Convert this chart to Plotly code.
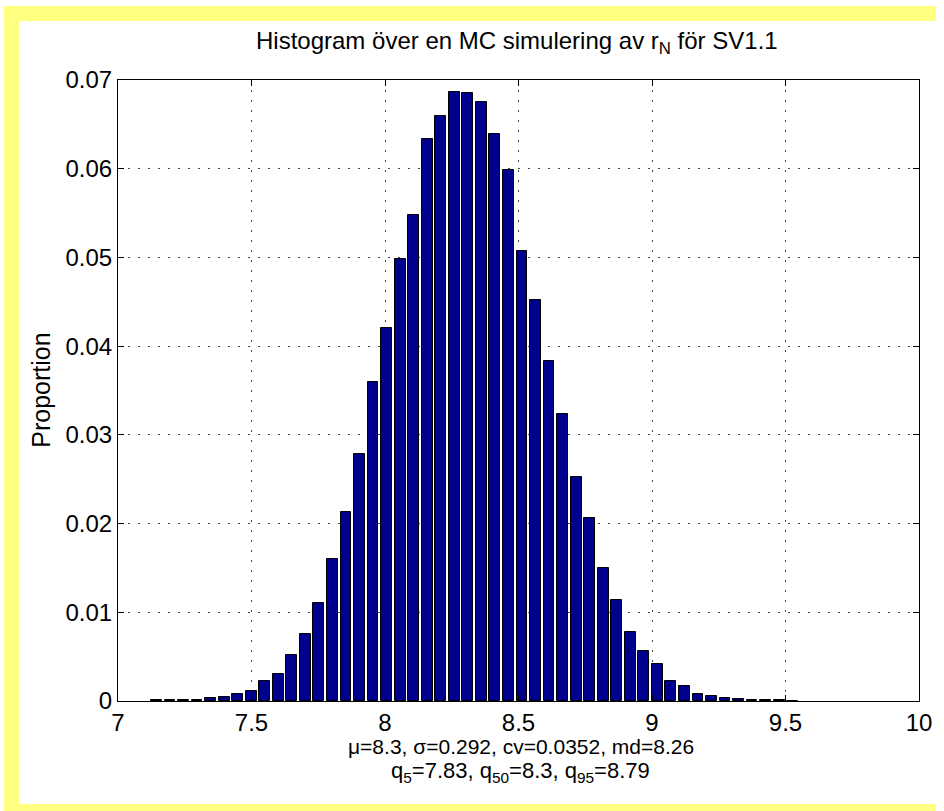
import plotly.graph_objects as go

# ---- data ----
bin_centers = [7.1440, 7.1947, 7.2454, 7.2961, 7.3468, 7.3975, 7.4482, 7.4989,
               7.5496, 7.6003, 7.6510, 7.7017, 7.7524, 7.8031, 7.8538, 7.9045,
               7.9552, 8.0059, 8.0566, 8.1073, 8.1580, 8.2087, 8.2594, 8.3101,
               8.3608, 8.4115, 8.4622, 8.5129, 8.5636, 8.6143, 8.6650, 8.7157,
               8.7664, 8.8171, 8.8678, 8.9185, 8.9692, 9.0199, 9.0706, 9.1213,
               9.1720, 9.2227, 9.2734, 9.3241, 9.3748, 9.4255, 9.4762, 9.5269]
proportion = [0.0001, 0.0001, 0.0001, 0.0001, 0.0003, 0.0004, 0.0008, 0.0011,
              0.0022, 0.0030, 0.0052, 0.0076, 0.0111, 0.0160, 0.0213, 0.0278,
              0.0360, 0.0420, 0.0498, 0.0548, 0.0634, 0.0659, 0.0686, 0.0685,
              0.0675, 0.0639, 0.0598, 0.0507, 0.0452, 0.0383, 0.0324, 0.0252,
              0.0206, 0.0150, 0.0114, 0.0078, 0.0056, 0.0042, 0.0023, 0.0017,
              0.0008, 0.0006, 0.0003, 0.0002, 0.0001, 0.0001, 0.0001, 0.00005]
x_ticks = [7, 7.5, 8, 8.5, 9, 9.5, 10]
x_tick_labels = ["7", "7.5", "8", "8.5", "9", "9.5", "10"]
y_ticks = [0, 0.01, 0.02, 0.03, 0.04, 0.05, 0.06, 0.07]
y_tick_labels = ["0", "0.01", "0.02", "0.03", "0.04", "0.05", "0.06", "0.07"]

title_text = "Histogram över en MC simulering av r<sub>N</sub> för SV1.1"
stats_line1 = "μ=8.3, σ=0.292, cv=0.0352, md=8.26"
stats_line2 = "q<sub>5</sub>=7.83, q<sub>50</sub>=8.3, q<sub>95</sub>=8.79"
y_label = "Proportion"

# ---- layout geometry (pixels) ----
W, H = 944, 811
L, R, T, B = 118, 17, 80, 110
PW, PH = W - L - R, H - T - B
FONT = "Liberation Sans, Arial, Helvetica, sans-serif"


def px(xp):
    return (xp - L) / PW


def py(yp):
    return (H - B - yp) / PH


fig = go.Figure(go.Bar(
    x=bin_centers, y=proportion, width=0.0406,
    marker=dict(color="#00008F", line=dict(color="black", width=1)),
    showlegend=False,
))

axis_common = dict(
    showgrid=True, gridcolor="#444444", gridwidth=1, griddash="2px,8px",
    ticks="inside", ticklen=6, tickcolor="black", tickwidth=1,
    showline=True, linecolor="black", linewidth=1, mirror="allticks",
    zeroline=False,
    tickfont=dict(family=FONT, size=24, color="black"),
)

fig.update_layout(
    width=W, height=H,
    margin=dict(l=L, r=R, t=T, b=B, pad=0),
    paper_bgcolor="white", plot_bgcolor="white",
    xaxis=dict(range=[7, 10], tickvals=x_ticks, ticktext=x_tick_labels, **axis_common),
    yaxis=dict(range=[0, 0.07], tickvals=y_ticks, ticktext=y_tick_labels, **axis_common),
    bargap=0,
)

annos = [
    dict(text=title_text, x=px(521), y=py(43), size=24),
    dict(text=stats_line1, x=px(525), y=py(746), size=21),
    dict(text=stats_line2, x=px(525), y=py(772), size=22),
    dict(text=y_label, x=px(40), y=py(390), size=25, textangle=-90),
]
for a in annos:
    size = a.pop("size")
    fig.add_annotation(xref="paper", yref="paper", showarrow=False,
                       xanchor="center", yanchor="middle",
                       font=dict(family=FONT, size=size, color="black"), **a)

yellow = "#FFFF80"
for (x0, y0, x1, y1) in [(3, 6, 18, 811), (3, 6, 944, 21), (3, 804, 944, 811)]:
    fig.add_shape(type="rect", xref="paper", yref="paper",
                  x0=px(x0), x1=px(x1), y0=py(y1), y1=py(y0),
                  fillcolor=yellow, line=dict(width=0), layer="above")

fig.write_html("out.html")
